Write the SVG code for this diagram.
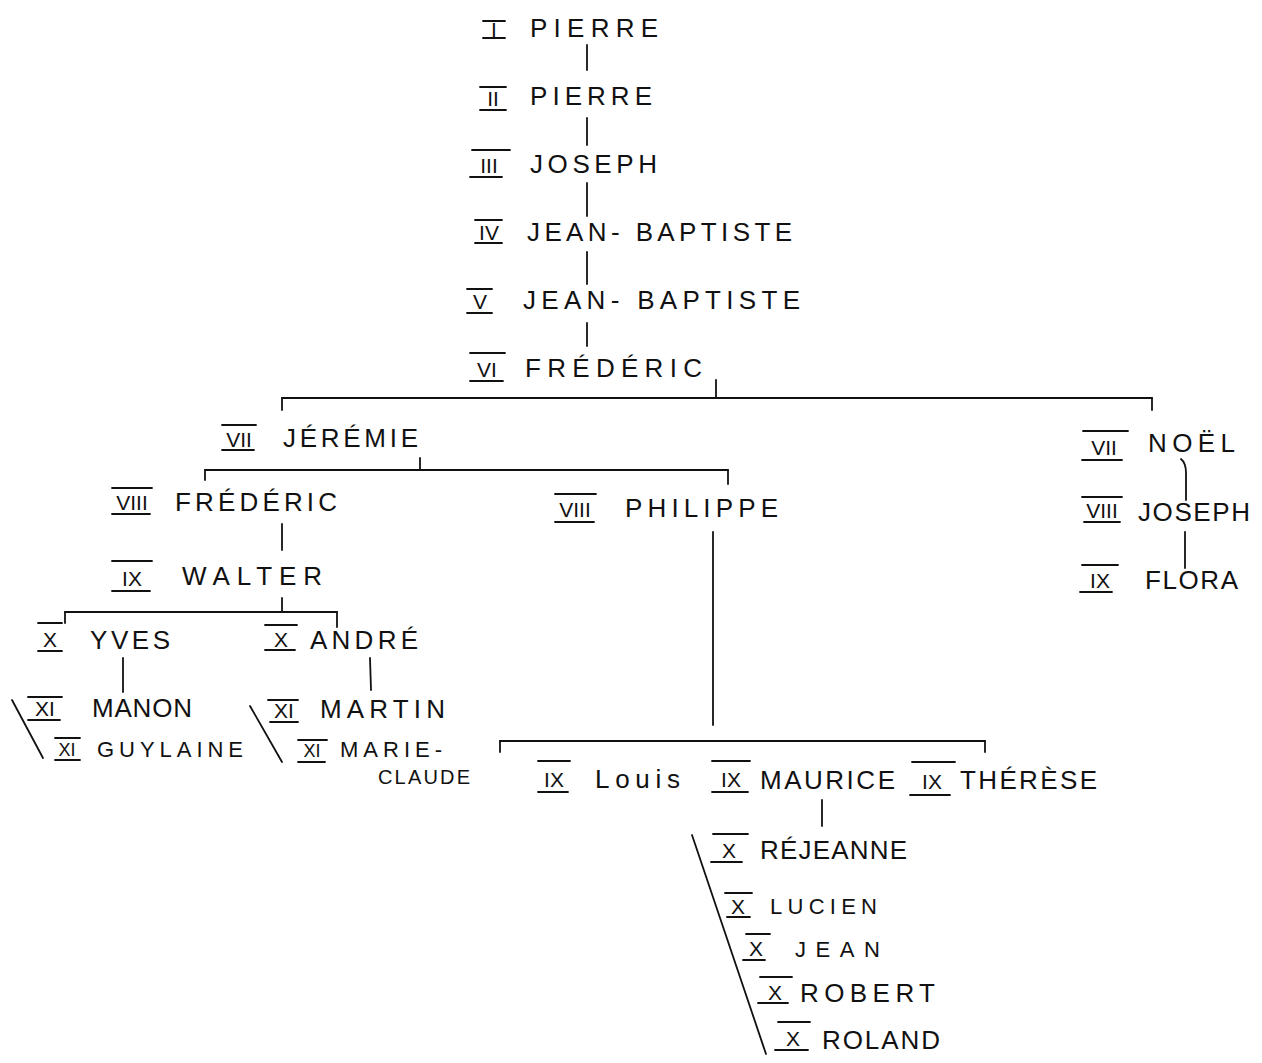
<svg xmlns="http://www.w3.org/2000/svg" width="1262" height="1063" viewBox="0 0 1262 1063">
<style>
  .nm { font-family: "Liberation Sans", "DejaVu Sans", sans-serif; font-size: 26px; fill: #111; }
  .sm { font-size: 22px; }
  .rn { font-family: "Liberation Sans", "DejaVu Sans", sans-serif; font-size: 21px; fill: #111; text-anchor: middle; }
  .rs { font-size: 18px; }
  .bar { stroke: #111; stroke-width: 1.8; stroke-linecap: round; }
  .conn line, .conn path { stroke: #111; stroke-width: 1.8; fill: none; stroke-linecap: round; }
</style>
<rect width="1262" height="1063" fill="#fff"/>

<g id="connectors" class="conn">
  <line x1="587" y1="45" x2="587" y2="70"/>
  <line x1="587" y1="118" x2="587" y2="145"/>
  <line x1="587" y1="183" x2="587" y2="216"/>
  <line x1="587" y1="252" x2="587" y2="284"/>
  <line x1="587" y1="323" x2="587" y2="346"/>
  <line x1="716" y1="380" x2="716" y2="398"/>
  <line x1="282" y1="398" x2="1152" y2="398"/>
  <line x1="282" y1="398" x2="282" y2="410"/>
  <line x1="1152" y1="398" x2="1152" y2="410"/>
  <line x1="420" y1="458" x2="420" y2="470"/>
  <line x1="205" y1="470" x2="728" y2="470"/>
  <line x1="205" y1="470" x2="205" y2="480"/>
  <line x1="728" y1="470" x2="728" y2="484"/>
  <line x1="282" y1="524" x2="282" y2="550"/>
  <line x1="282" y1="598" x2="282" y2="612"/>
  <line x1="65" y1="612" x2="337" y2="612"/>
  <line x1="65" y1="612" x2="65" y2="623"/>
  <line x1="337" y1="612" x2="337" y2="627"/>
  <line x1="123" y1="658" x2="123" y2="692"/>
  <line x1="370" y1="658" x2="371" y2="690"/>
  <line x1="12" y1="700" x2="43" y2="758"/>
  <line x1="250" y1="706" x2="282" y2="762"/>
  <line x1="713" y1="532" x2="713" y2="725"/>
  <line x1="500" y1="741" x2="985" y2="741"/>
  <line x1="500" y1="741" x2="500" y2="752"/>
  <line x1="985" y1="741" x2="985" y2="752"/>
  <line x1="822" y1="800" x2="822" y2="826"/>
  <line x1="692" y1="835" x2="766" y2="1054"/>
  <path d="M1181 459 Q1186 463 1186 473 L1186 500"/>
  <line x1="1185" y1="532" x2="1185" y2="568"/>
</g>

<g id="n-pierre-1">
  <line class="bar" x1="483" y1="21" x2="505" y2="21"/><line class="bar" x1="483" y1="38" x2="505" y2="38"/>
  <text class="rn" x="494" y="37">I</text>
  <text class="nm" x="530" y="37" textLength="128" lengthAdjust="spacing">PIERRE</text>
</g>
<g id="n-pierre-2">
  <line class="bar" x1="480" y1="87" x2="506" y2="87"/><line class="bar" x1="480" y1="110" x2="506" y2="110"/>
  <text class="rn" x="493" y="106">II</text>
  <text class="nm" x="530" y="105" textLength="122" lengthAdjust="spacing">PIERRE</text>
</g>
<g id="n-joseph-3">
  <line class="bar" x1="472" y1="150" x2="510" y2="150"/><line class="bar" x1="470" y1="177" x2="502" y2="177"/>
  <text class="rn" x="489" y="173">III</text>
  <text class="nm" x="530" y="173" textLength="127" lengthAdjust="spacing">JOSEPH</text>
</g>
<g id="n-jb-4">
  <line class="bar" x1="475" y1="220" x2="502" y2="220"/><line class="bar" x1="475" y1="243" x2="502" y2="243"/>
  <text class="rn" x="489" y="240">IV</text>
  <text class="nm" x="527" y="241" textLength="265" lengthAdjust="spacing">JEAN- BAPTISTE</text>
</g>
<g id="n-jb-5">
  <line class="bar" x1="467" y1="289" x2="492" y2="289"/><line class="bar" x1="467" y1="313" x2="492" y2="313"/>
  <text class="rn" x="480" y="309">V</text>
  <text class="nm" x="523" y="309" textLength="277" lengthAdjust="spacing">JEAN- BAPTISTE</text>
</g>
<g id="n-frederic-6">
  <line class="bar" x1="470" y1="353" x2="505" y2="353"/><line class="bar" x1="470" y1="381" x2="503" y2="381"/>
  <text class="rn" x="487" y="377">VI</text>
  <text class="nm" x="525" y="377" textLength="177" lengthAdjust="spacing">FRÉDÉRIC</text>
</g>
<g id="n-jeremie-7">
  <line class="bar" x1="222" y1="425" x2="256" y2="425"/><line class="bar" x1="222" y1="450" x2="254" y2="450"/>
  <text class="rn" x="239" y="447">VII</text>
  <text class="nm" x="283" y="447" textLength="135" lengthAdjust="spacing">JÉRÉMIE</text>
</g>
<g id="n-frederic-8">
  <line class="bar" x1="112" y1="488" x2="152" y2="488"/><line class="bar" x1="112" y1="514" x2="150" y2="514"/>
  <text class="rn" x="132" y="510">VIII</text>
  <text class="nm" x="175" y="511" textLength="162" lengthAdjust="spacing">FRÉDÉRIC</text>
</g>
<g id="n-philippe-8">
  <line class="bar" x1="555" y1="494" x2="596" y2="494"/><line class="bar" x1="555" y1="522" x2="594" y2="522"/>
  <text class="rn" x="575" y="517">VIII</text>
  <text class="nm" x="625" y="517" textLength="153" lengthAdjust="spacing">PHILIPPE</text>
</g>
<g id="n-walter-9">
  <line class="bar" x1="112" y1="561" x2="152" y2="561"/><line class="bar" x1="112" y1="591" x2="150" y2="591"/>
  <text class="rn" x="132" y="586">IX</text>
  <text class="nm" x="182" y="585" textLength="140" lengthAdjust="spacing">WALTER</text>
</g>
<g id="n-yves-10">
  <line class="bar" x1="38" y1="623" x2="62" y2="623"/><line class="bar" x1="38" y1="651" x2="62" y2="651"/>
  <text class="rn" x="50" y="647">X</text>
  <text class="nm" x="90" y="649" textLength="80" lengthAdjust="spacing">YVES</text>
</g>
<g id="n-andre-10">
  <line class="bar" x1="265" y1="625" x2="297" y2="625"/><line class="bar" x1="265" y1="650" x2="295" y2="650"/>
  <text class="rn" x="281" y="647">X</text>
  <text class="nm" x="310" y="649" textLength="108" lengthAdjust="spacing">ANDRÉ</text>
</g>
<g id="n-manon-11">
  <line class="bar" x1="28" y1="697" x2="62" y2="697"/><line class="bar" x1="28" y1="720" x2="60" y2="720"/>
  <text class="rn" x="45" y="716">XI</text>
  <text class="nm" x="92" y="717" textLength="100" lengthAdjust="spacing">MANON</text>
</g>
<g id="n-guylaine-11">
  <line class="bar" x1="55" y1="738" x2="80" y2="738"/><line class="bar" x1="55" y1="760" x2="80" y2="760"/>
  <text class="rn rs" x="67" y="756">XI</text>
  <text class="nm sm" x="97" y="757" textLength="146" lengthAdjust="spacing">GUYLAINE</text>
</g>
<g id="n-martin-11">
  <line class="bar" x1="268" y1="700" x2="298" y2="700"/><line class="bar" x1="270" y1="722" x2="298" y2="722"/>
  <text class="rn" x="284" y="718">XI</text>
  <text class="nm" x="320" y="718" textLength="125" lengthAdjust="spacing">MARTIN</text>
</g>
<g id="n-marie-claude-11">
  <line class="bar" x1="298" y1="740" x2="327" y2="740"/><line class="bar" x1="298" y1="762" x2="325" y2="762"/>
  <text class="rn rs" x="312" y="757">XI</text>
  <text class="nm sm" x="340" y="757" textLength="102" lengthAdjust="spacing">MARIE-</text>
  <text class="nm" x="378" y="784" style="font-size:20px" textLength="92" lengthAdjust="spacing">CLAUDE</text>
</g>
<g id="n-louis-9">
  <line class="bar" x1="538" y1="761" x2="570" y2="761"/><line class="bar" x1="538" y1="792" x2="568" y2="792"/>
  <text class="rn" x="554" y="787">IX</text>
  <text class="nm" x="595" y="788" textLength="85" lengthAdjust="spacing">Louis</text>
</g>
<g id="n-maurice-9">
  <line class="bar" x1="712" y1="761" x2="750" y2="761"/><line class="bar" x1="712" y1="792" x2="748" y2="792"/>
  <text class="rn" x="731" y="787">IX</text>
  <text class="nm" x="760" y="789" textLength="135" lengthAdjust="spacing">MAURICE</text>
</g>
<g id="n-therese-9">
  <line class="bar" x1="912" y1="762" x2="955" y2="762"/><line class="bar" x1="910" y1="795" x2="950" y2="795"/>
  <text class="rn" x="932" y="789">IX</text>
  <text class="nm" x="960" y="789" textLength="137" lengthAdjust="spacing">THÉRÈSE</text>
</g>
<g id="n-rejeanne-10">
  <line class="bar" x1="713" y1="834" x2="748" y2="834"/><line class="bar" x1="711" y1="862" x2="742" y2="862"/>
  <text class="rn" x="729" y="858">X</text>
  <text class="nm" x="760" y="859" textLength="147" lengthAdjust="spacing">RÉJEANNE</text>
</g>
<g id="n-lucien-10">
  <line class="bar" x1="725" y1="893" x2="752" y2="893"/><line class="bar" x1="727" y1="917" x2="750" y2="917"/>
  <text class="rn" x="738" y="914">X</text>
  <text class="nm sm" x="770" y="914" textLength="107" lengthAdjust="spacing">LUCIEN</text>
</g>
<g id="n-jean-10">
  <line class="bar" x1="746" y1="934" x2="770" y2="934"/><line class="bar" x1="743" y1="960" x2="765" y2="960"/>
  <text class="rn" x="756" y="956">X</text>
  <text class="nm sm" x="795" y="957" textLength="85" lengthAdjust="spacing">JEAN</text>
</g>
<g id="n-robert-10">
  <line class="bar" x1="760" y1="977" x2="792" y2="977"/><line class="bar" x1="758" y1="1003" x2="788" y2="1003"/>
  <text class="rn" x="775" y="1000">X</text>
  <text class="nm" x="800" y="1002" textLength="135" lengthAdjust="spacing">ROBERT</text>
</g>
<g id="n-roland-10">
  <line class="bar" x1="778" y1="1022" x2="810" y2="1022"/><line class="bar" x1="775" y1="1050" x2="808" y2="1050"/>
  <text class="rn" x="793" y="1046">X</text>
  <text class="nm" x="822" y="1049" textLength="118" lengthAdjust="spacing">ROLAND</text>
</g>
<g id="n-noel-7">
  <line class="bar" x1="1083" y1="431" x2="1128" y2="431"/><line class="bar" x1="1082" y1="460" x2="1122" y2="460"/>
  <text class="rn" x="1104" y="455">VII</text>
  <text class="nm" x="1148" y="452" textLength="87" lengthAdjust="spacing">NOËL</text>
</g>
<g id="n-joseph-8">
  <line class="bar" x1="1082" y1="497" x2="1122" y2="497"/><line class="bar" x1="1084" y1="522" x2="1120" y2="522"/>
  <text class="rn" x="1102" y="518">VIII</text>
  <text class="nm" x="1138" y="521" textLength="112" lengthAdjust="spacing">JOSEPH</text>
</g>
<g id="n-flora-9">
  <line class="bar" x1="1082" y1="565" x2="1118" y2="565"/><line class="bar" x1="1080" y1="592" x2="1112" y2="592"/>
  <text class="rn" x="1100" y="588">IX</text>
  <text class="nm" x="1145" y="589" textLength="93" lengthAdjust="spacing">FLORA</text>
</g>
</svg>
